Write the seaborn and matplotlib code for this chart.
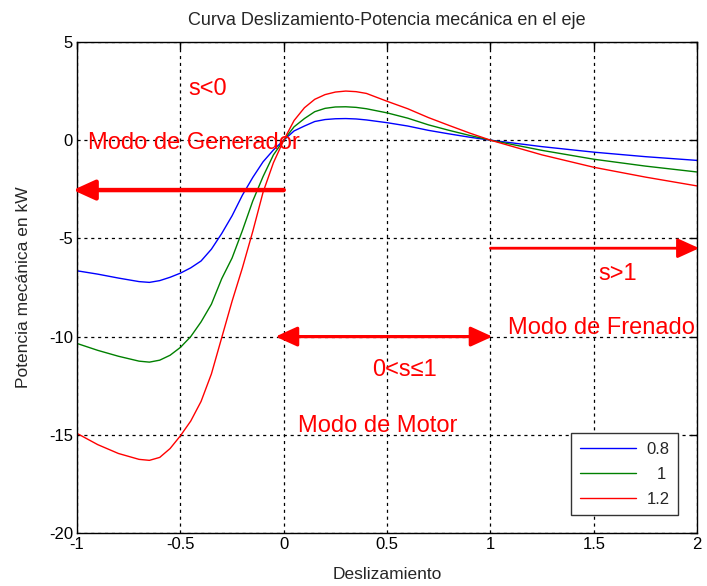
import matplotlib
matplotlib.use("Agg")
import matplotlib.pyplot as plt
import seaborn as sns
import pandas as pd

# ---- data ----
slip = [-1.0, -0.9, -0.8, -0.7, -0.65, -0.6, -0.55, -0.5, -0.45, -0.4, -0.35, -0.3,
        -0.25, -0.2, -0.15, -0.1, -0.05, 0.0, 0.05, 0.1, 0.15, 0.2, 0.25, 0.3, 0.35,
        0.4, 0.5, 0.6, 0.7, 0.8, 0.9, 1.0, 1.25, 1.5, 1.75, 2.0]

p_08 = [-6.65, -6.82, -7.02, -7.2, -7.24, -7.15, -6.98, -6.77, -6.5, -6.15, -5.55, -4.75,
        -3.85, -2.8, -1.9, -1.1, -0.5, 0.0, 0.47, 0.72, 0.95, 1.05, 1.09, 1.1, 1.08,
        1.03, 0.89, 0.72, 0.5, 0.32, 0.15, 0.0, -0.33, -0.61, -0.84, -1.03]

p_10 = [-10.35, -10.7, -11.0, -11.25, -11.3, -11.2, -10.95, -10.55, -10.0, -9.25, -8.35, -7.05,
        -6.0, -4.6, -3.1, -1.85, -0.75, 0.0, 0.68, 1.1, 1.45, 1.62, 1.69, 1.7, 1.67,
        1.6, 1.39, 1.12, 0.78, 0.5, 0.24, 0.0, -0.52, -0.97, -1.32, -1.62]

p_12 = [-14.93, -15.5, -15.95, -16.25, -16.3, -16.15, -15.7, -15.05, -14.3, -13.3, -11.9, -10.05,
        -8.2, -6.5, -4.65, -2.65, -1.15, 0.0, 1.0, 1.65, 2.08, 2.32, 2.45, 2.5, 2.47,
        2.38, 1.98, 1.6, 1.15, 0.75, 0.36, 0.0, -0.75, -1.38, -1.88, -2.33]

series_labels = ["0.8", "1", "1.2"]
series_colors = ["#0000ff", "#008000", "#ff0000"]

x_ticks = [-1, -0.5, 0, 0.5, 1, 1.5, 2]
x_tick_labels = ["-1", "-0.5", "0", "0.5", "1", "1.5", "2"]
y_ticks = [-20, -15, -10, -5, 0, 5]
y_tick_labels = ["-20", "-15", "-10", "-5", "0", "5"]

title = "Curva Deslizamiento-Potencia mecánica en el eje"
xlabel = "Deslizamiento"
ylabel = "Potencia mecánica en kW"

df = pd.concat([
    pd.DataFrame({"s": slip, "P": vals, "V": lab})
    for vals, lab in zip([p_08, p_10, p_12], series_labels)
], ignore_index=True)

# ---- style ----
sns.set_theme(style="white")
plt.rcParams["font.family"] = ["Liberation Sans", "DejaVu Sans"]
plt.rcParams["xtick.direction"] = "in"
plt.rcParams["ytick.direction"] = "in"

fig = plt.figure(figsize=(7.07, 5.86), dpi=100)
ax = fig.add_axes([0.109, 0.0904, 0.877, 0.838])

sns.lineplot(data=df, x="s", y="P", hue="V", palette=dict(zip(series_labels, series_colors)),
             sort=False, estimator=None, linewidth=1.0, ax=ax, legend=False)

ax.set_xlim(-1, 2)
ax.set_ylim(-20, 5)
ax.set_xticks(x_ticks)
ax.set_xticklabels(x_tick_labels)
ax.set_yticks(y_ticks)
ax.set_yticklabels(y_tick_labels)
ax.tick_params(axis="both", which="both", direction="in", length=5, width=1,
               top=True, right=True, labelsize=12, colors="black", pad=3)
for sp in ax.spines.values():
    sp.set_visible(True)
    sp.set_color("black")
    sp.set_linewidth(1.0)

ax.grid(True, color="black", linestyle=(0, (2.5, 3)), linewidth=0.9)
ax.set_axisbelow(True)

ax.set_title(title, fontsize=13, pad=12)
ax.set_xlabel(xlabel, fontsize=12.5, labelpad=11)
ax.set_ylabel(ylabel, fontsize=12.5, labelpad=13)

# ---- annotations ----
red = "#ff0000"
fs_ann = 17
ax.text(-0.463, 2.63, "s<0", color=red, fontsize=fs_ann, va="center", ha="left")
ax.text(-0.947, -0.46, "Modo de Generador", color=red, fontsize=fs_ann, va="baseline", ha="left")
ax.text(1.52, -7.12, "s>1", color=red, fontsize=fs_ann, va="baseline", ha="left")
ax.text(1.087, -9.88, "Modo de Frenado", color=red, fontsize=fs_ann, va="baseline", ha="left")
ax.text(0.426, -11.99, "0<s≤1", color=red, fontsize=fs_ann, va="baseline", ha="left")
ax.text(0.069, -14.86, "Modo de Motor", color=red, fontsize=fs_ann, va="baseline", ha="left")

ax.annotate("", xy=(-1.02, -2.54), xytext=(0.0, -2.54), annotation_clip=False,
            arrowprops=dict(arrowstyle="-|>,head_length=1.1,head_width=0.5", lw=3.2,
                            color=red, shrinkA=0, shrinkB=0, mutation_scale=12))
ax.annotate("", xy=(2.01, -5.5), xytext=(1.0, -5.5), annotation_clip=False,
            arrowprops=dict(arrowstyle="-|>,head_length=1.1,head_width=0.5", lw=2.0,
                            color=red, shrinkA=0, shrinkB=0, mutation_scale=12))
ax.annotate("", xy=(1.01, -10.0), xytext=(-0.04, -10.0), annotation_clip=False,
            arrowprops=dict(arrowstyle="<|-|>,head_length=1.1,head_width=0.5", lw=2.3,
                            color=red, shrinkA=0, shrinkB=0, mutation_scale=12))

# ---- legend ----
leg = ax.legend(ax.get_lines()[:3], series_labels, loc="lower right",
                bbox_to_anchor=(0.969, 0.037), borderaxespad=0, fontsize=12,
                handlelength=3.4, frameon=True, fancybox=False, framealpha=1,
                edgecolor="#333333", borderpad=0.5, labelspacing=0.6, handletextpad=0.6)
leg.get_frame().set_linewidth(1.0)
fig.canvas.draw()
renderer = fig.canvas.get_renderer()
texts = leg.get_texts()
widths = [t.get_window_extent(renderer).width for t in texts]
maxw = max(widths)
for t, w in zip(texts, widths):
    t.set_position(((maxw - w) * 72.0 / fig.dpi, 0))

fig.savefig("out.png", dpi=100, facecolor="white")
